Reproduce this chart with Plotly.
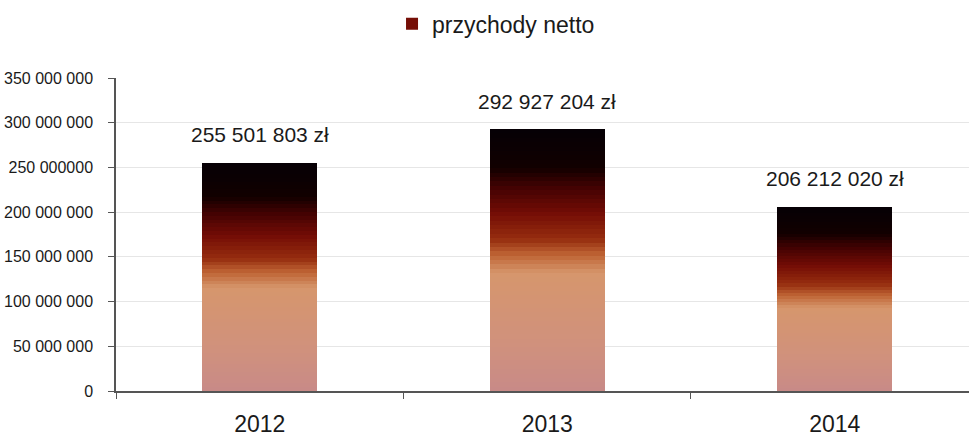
import plotly.graph_objects as go

# Net revenue by year (PLN)
years = ["2012", "2013", "2014"]
revenue = [255501803, 292927204, 206212020]
value_labels = ["255 501 803 zł", "292 927 204 zł", "206 212 020 zł"]
series_name = "przychody netto"

y_tickvals = [0, 50e6, 100e6, 150e6, 200e6, 250e6, 300e6, 350e6]
y_ticktext = ["0", "50 000 000", "100 000 000", "150 000 000", "200 000 000",
              "250 000000", "300 000 000", "350 000 000"]

# Vertical colour ramp for the bars (position from bottom, RGB)
ramp = [
    (0.00, (200, 138, 136)),
    (0.18, (208, 145, 125)),
    (0.45, (214, 150, 108)),
    (0.52, (190, 100, 52)),
    (0.58, (150, 45, 15)),
    (0.68, (115, 12, 5)),
    (0.78, (65, 2, 2)),
    (0.85, (18, 0, 0)),
    (1.00, (5, 0, 5)),
]


def ramp_color(t):
    for (t0, c0), (t1, c1) in zip(ramp[:-1], ramp[1:]):
        if t0 <= t <= t1:
            f = (t - t0) / (t1 - t0) if t1 > t0 else 0
            c = [round(a + (b - a) * f) for a, b in zip(c0, c1)]
            return "rgb({},{},{})".format(*c)
    return "rgb({},{},{})".format(*ramp[-1][1])


n_steps = 60
fig = go.Figure()
for i in range(n_steps):
    t = (i + 0.5) / n_steps
    fig.add_trace(go.Bar(
        x=years,
        y=[v / n_steps for v in revenue],
        width=0.4,
        marker=dict(color=ramp_color(t), line=dict(width=0)),
        name=series_name,
        showlegend=(i == 40),
        hoverinfo="skip",
    ))

for idx, (v, lab) in enumerate(zip(revenue, value_labels)):
    fig.add_annotation(x=idx, y=v, text=lab, showarrow=False, yshift=28,
                       font=dict(size=21, color="#1a1a1a"))

fig.update_layout(
    width=969, height=437,
    margin=dict(l=116, r=0, t=78, b=44),
    barmode="stack",
    bargap=0,
    paper_bgcolor="white",
    plot_bgcolor="white",
    font=dict(family="Liberation Sans, Arial, sans-serif", color="#1a1a1a"),
    legend=dict(orientation="h", x=0.3236, xanchor="left", y=0.995, yanchor="top",
                yref="container", font=dict(size=23), itemwidth=30),
    showlegend=True,
)

fig.update_xaxes(
    type="category",
    range=[-0.5, 2.467],
    showline=True, linecolor="#555555", linewidth=1.5,
    ticks="outside", tickson="boundaries", ticklen=6, tickcolor="#555555",
    tickfont=dict(size=23),
    ticklabelstandoff=12,
    showgrid=False,
)
fig.update_yaxes(
    range=[0, 350e6],
    tickvals=y_tickvals, ticktext=y_ticktext,
    showline=True, linecolor="#555555", linewidth=1.5,
    ticks="outside", ticklen=6, tickcolor="#555555",
    tickfont=dict(size=16),
    ticklabelstandoff=12,
    showgrid=True, gridcolor="#e6e6e6", gridwidth=1,
    zeroline=False,
)

fig.write_html("out.html")
